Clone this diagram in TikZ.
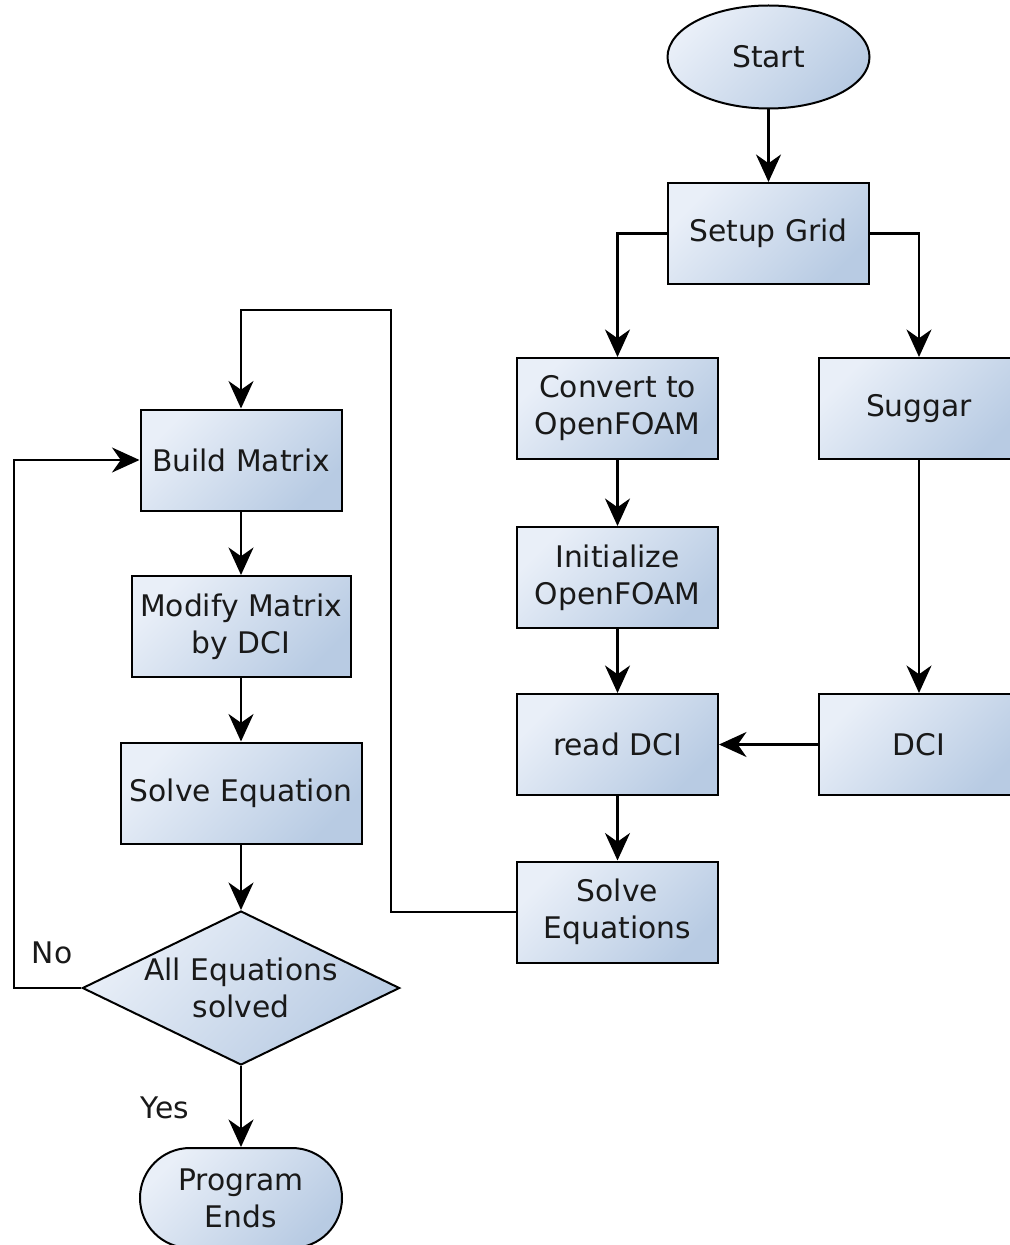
\documentclass[tikz,border=0pt]{standalone}
\usepackage{fontspec}
\setmainfont{DejaVu Sans}
\usetikzlibrary{shapes.geometric,arrows.meta}
\definecolor{boxlight}{RGB}{233,239,248}
\definecolor{boxdark}{RGB}{184,203,227}

\begin{document}
\begin{tikzpicture}[x=0.4pt, y=-0.4pt,
  every node/.style={font=\fontsize{11.9}{14.8}\selectfont, text=black!90},
  block/.style={draw, line width=0.8pt, top color=boxlight, bottom color=boxdark, shading angle=45,
    minimum width=80.4pt, minimum height=40.4pt, align=center, inner sep=2pt},
  startnode/.style={block, ellipse, minimum width=80.8pt, minimum height=41.2pt},
  endnode/.style={block, rounded corners=20pt, minimum width=80.8pt, minimum height=40pt},
  decision/.style={block, diamond, aspect=2.06, minimum width=126.8pt, minimum height=61.6pt, inner sep=0pt},
  arr/.style={-{Stealth[length=11pt, width=10pt, inset=3.5pt]}, line width=0.9pt}]
  \useasboundingbox (0,0) rectangle (1010,1245);

  % right part
  \node[startnode] (start) at (768.5,57) {Start};
  \node[block] (setup) at (768.5,233.5) {Setup Grid};
  \node[block] (convert) at (617.5,408.5) {Convert to\\OpenFOAM};
  \node[block] (suggar) at (919,408.5) {Suggar};
  \node[block] (init) at (617.5,577.5) {Initialize\\OpenFOAM};
  \node[block] (readdci) at (617.5,744.5) {read DCI};
  \node[block] (dci) at (919,744.5) {DCI};
  \node[block] (solveeqs) at (617.5,912) {Solve\\Equations};

  % left part
  \node[block] (build) at (241,460) {Build Matrix};
  \node[block, minimum width=87.6pt] (modify) at (241,626.5) {Modify Matrix\\by DCI};
  \node[block, minimum width=96.4pt] (solveeq) at (241,793) {Solve Equation};
  \node[decision] (check) at (241,988) {All Equations\\solved};
  \node[endnode] (ends) at (241,1198) {Program\\Ends};
  \node (no) at (52,953) {No};
  \node (yes) at (165,1108) {Yes};

  \coordinate (loopA) at (391,310);
  \coordinate (loopB) at (14,988);

  \draw[arr] (start) -- (setup);
  \draw[arr] (setup.west) -| (convert.north);
  \draw[arr] (setup.east) -| (suggar.north);
  \draw[arr] (convert) -- (init);
  \draw[arr] (init) -- (readdci);
  \draw[arr] (readdci) -- (solveeqs);
  \draw[arr] (suggar) -- (dci);
  \draw[arr] (dci) -- (readdci);
  \draw[arr] (solveeqs.west) -| (loopA) -| (build.north);
  \draw[arr] (build) -- (modify);
  \draw[arr] (modify) -- (solveeq);
  \draw[arr] (solveeq) -- (check);
  \draw[arr] (check.west) -- (loopB) |- (build.west);
  \draw[arr] (check) -- (ends);
\end{tikzpicture}
\end{document}
